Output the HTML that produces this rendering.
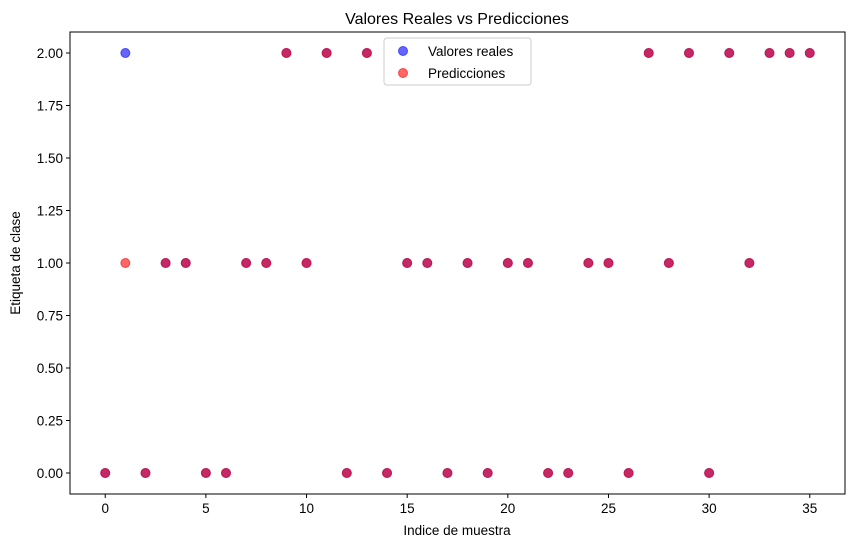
<!DOCTYPE html>
<html><head><meta charset="utf-8"><style>
body{margin:0;background:#fff;}
svg text{font-family:"Liberation Sans","DejaVu Sans",sans-serif;fill:#000;}
</style></head><body>
<svg id="chart" width="855" height="547" xmlns="http://www.w3.org/2000/svg">
<rect width="855" height="547" fill="#fff"/>
<text x="457" y="24" font-size="16" text-anchor="middle">Valores Reales vs Predicciones</text>
<g id="ticks"></g>
<g id="marks"></g>
<rect x="70" y="32" width="775" height="462" fill="none" stroke="#000" stroke-width="1"/>
<text x="457" y="535" font-size="13.5" text-anchor="middle">Indice de muestra</text>
<text x="20" y="263" font-size="13.5" text-anchor="middle" transform="rotate(-90 20 263)">Etiqueta de clase</text>
<g>
<rect x="384" y="38" width="147" height="47" rx="3" fill="#fff" fill-opacity="0.8" stroke="#ccc"/>
<g><circle cx="403" cy="51" r="4.5" fill="blue" fill-opacity="0.6" stroke="blue" stroke-opacity="0.6"/><text x="428" y="56" font-size="13.5">Valores reales</text></g>
<g><circle cx="403" cy="73" r="4.5" fill="red" fill-opacity="0.6" stroke="red" stroke-opacity="0.6"/><text x="428" y="78" font-size="13.5">Predicciones</text></g>
</g>
</svg>
<script>
const realValues=[0,2,0,1,1,0,0,1,1,2,1,2,0,2,0,1,1,0,1,0,1,1,0,0,1,1,0,2,1,2,0,2,1,2,2,2];
const predValues=[0,1,0,1,1,0,0,1,1,2,1,2,0,2,0,1,1,0,1,0,1,1,0,0,1,1,0,2,1,2,0,2,1,2,2,2];
const xTicks=[0,5,10,15,20,25,30,35];
const yTicks=[0,0.25,0.5,0.75,1,1.25,1.5,1.75,2];
const NS="http://www.w3.org/2000/svg";
const xMin=-1.75,xMax=36.75,yMin=-0.1,yMax=2.1;
const L=70,R=845,T=32,B=494;
const xs=v=>L+(v-xMin)/(xMax-xMin)*(R-L);
const ys=v=>B-(v-yMin)/(yMax-yMin)*(B-T);
const tg=document.getElementById('ticks'),mg=document.getElementById('marks');
function mk(tag,attrs,parent){const e=document.createElementNS(NS,tag);for(const k in attrs)e.setAttribute(k,attrs[k]);parent.appendChild(e);return e;}
xTicks.forEach(t=>{
  const l=mk('line',{x1:xs(t),x2:xs(t),y1:B,y2:B+4,stroke:'#000'},tg);
  
  
  const tx=mk('text',{x:xs(t),y:B+19,'font-size':'13.5','text-anchor':'middle'},tg);tx.textContent=t;
  
  
});
yTicks.forEach(t=>{
  const l=mk('line',{x1:L-4,x2:L,y1:ys(t),y2:ys(t),stroke:'#000'},tg);
  
  
  const tx=mk('text',{x:L-7,y:ys(t)+5,'font-size':'13.5','text-anchor':'end'},tg);tx.textContent=t.toFixed(2);
  
  
});
realValues.forEach((v,i)=>{
  const c=mk('circle',{cx:xs(i),cy:ys(v),r:4.5,fill:'blue','fill-opacity':0.6,stroke:'blue','stroke-opacity':0.6},mg);
  
  
});
predValues.forEach((v,i)=>{
  const c=mk('circle',{cx:xs(i),cy:ys(v),r:4.5,fill:'red','fill-opacity':0.6,stroke:'red','stroke-opacity':0.6},mg);
  
  
});
</script>
</body></html>
